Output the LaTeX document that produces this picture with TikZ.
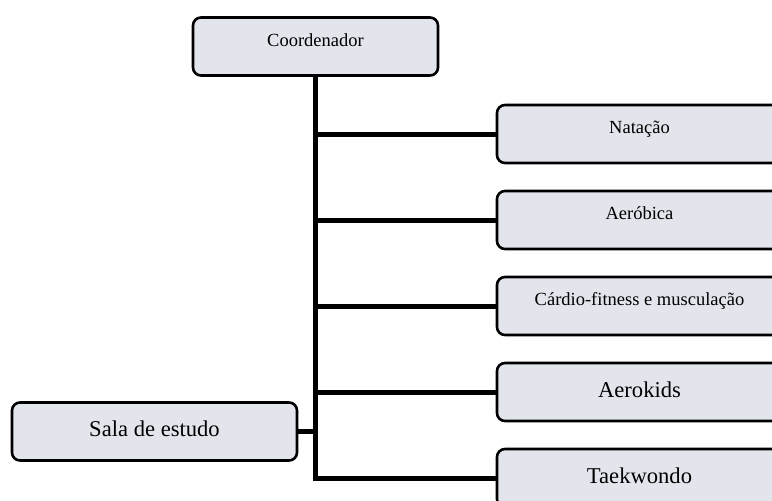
\documentclass[tikz,border=0pt]{standalone}
\usepackage{fontspec}
\setmainfont{Liberation Serif}
\definecolor{caixa}{RGB}{226,229,235}
\tikzset{
    caixa/.style={draw=black, fill=caixa, line width=2.6pt, rounded corners=8pt,
        minimum height=58pt, align=center},
    pequeno/.style={font=\fontsize{18.5}{20}\selectfont, text height=13pt, text depth=14pt},
    grande/.style={font=\fontsize{22.6}{24}\selectfont, text height=16pt, text depth=6pt},
    linha/.style={line width=5pt}
}

\begin{document}
\begin{tikzpicture}[x=1pt, y=-1pt]
    % Rahmen des Bildes
    \path[use as bounding box, clip] (0,0) rectangle (772,501);

    % Kästen
    \node[caixa, pequeno, minimum width=245pt] (coord) at (315.5,46.5) {Coordenador};
    \node[caixa, pequeno, minimum width=285pt] (natacao) at (639.5,134) {Natação};
    \node[caixa, pequeno, minimum width=285pt] (aerobica) at (639.5,220) {Aeróbica};
    \node[caixa, pequeno, minimum width=285pt] (cardio) at (639.5,306) {Cárdio-fitness e musculação};
    \node[caixa, grande, minimum width=285pt] (aerokids) at (639.5,392) {Aerokids};
    \node[caixa, grande, minimum width=285pt] (taekwondo) at (639.5,478) {Taekwondo};
    \node[caixa, grande, minimum width=285pt] (sala) at (154.5,431.5) {Sala de estudo};

    % Verbindungslinien
    \draw[linha] (coord.south) |- (taekwondo.west);
    \draw[linha] (coord.south |- natacao.west) -- (natacao.west);
    \draw[linha] (coord.south |- aerobica.west) -- (aerobica.west);
    \draw[linha] (coord.south |- cardio.west) -- (cardio.west);
    \draw[linha] (coord.south |- aerokids.west) -- (aerokids.west);
    \draw[linha] (sala.east) -- (coord.south |- sala.east);
\end{tikzpicture}
\end{document}
